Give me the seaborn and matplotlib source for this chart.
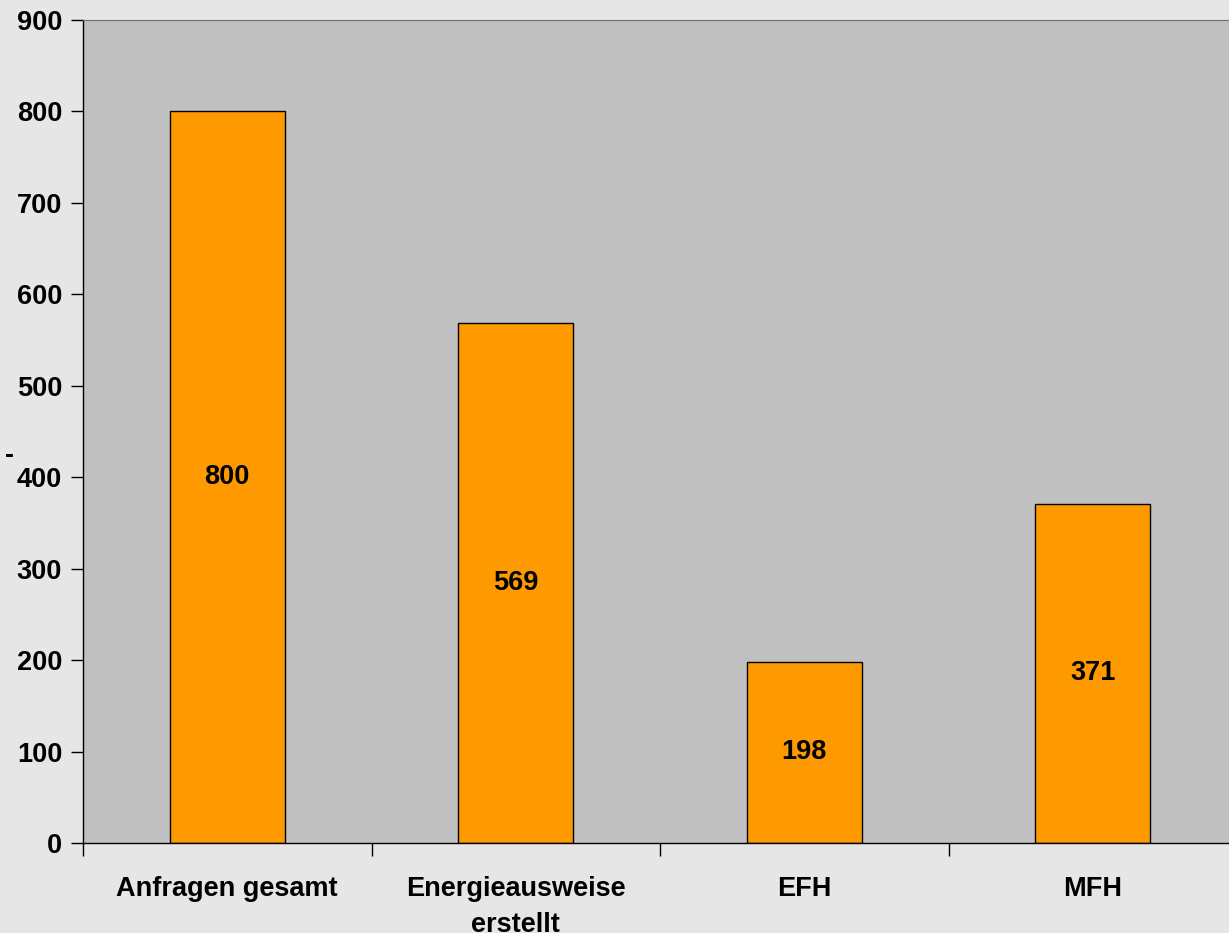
import numpy as np
import matplotlib
matplotlib.use("Agg")
import matplotlib.pyplot as plt
import seaborn as sns

# Daten
kategorien = ["Anfragen gesamt", "Energieausweise\nerstellt", "EFH", "MFH"]
werte = [800, 569, 198, 371]
y_ticks = list(range(0, 1000, 100))

sns.set_style("white")
plt.rcParams['font.family'] = ['Liberation Sans', 'DejaVu Sans']
plt.rcParams['font.weight'] = 'bold'
plt.rcParams['text.color'] = 'black'
plt.rcParams['xtick.color'] = 'black'
plt.rcParams['ytick.color'] = 'black'

fig = plt.figure(figsize=(12.29, 9.33), dpi=100, facecolor='#e6e6e6')
ax = fig.add_axes([83 / 1229, 90 / 933, 1154 / 1229, 823 / 933])
ax.set_facecolor('#c0c0c0')

sns.barplot(x=kategorien, y=werte, color='#ff9900', saturation=1, width=0.4,
            edgecolor='black', linewidth=1, ax=ax)

ax.set_xlim(-0.5, 3.5)
ax.set_ylim(0, 900)
ax.set_yticks(y_ticks)
ax.set_yticklabels([str(t) for t in y_ticks], fontsize=19.5, fontweight='bold', color='black')
ax.set_xticks(range(len(kategorien)))
ax.set_xticklabels(kategorien, fontsize=19.5, fontweight='bold', color='black', linespacing=1.5)
ax.set_xticks(np.arange(-0.5, 4, 1), minor=True)
ax.tick_params(axis='x', which='major', bottom=True, length=0, pad=24)
ax.tick_params(axis='x', which='minor', bottom=True, length=9, width=1, color='black', direction='out')
ax.tick_params(axis='y', left=True, length=9, width=1, color='black', direction='out', pad=6)
ax.set_xlabel("")
ax.set_ylabel("")

for spine in ['left', 'bottom']:
    ax.spines[spine].set_color('black')
    ax.spines[spine].set_linewidth(1)
ax.spines['top'].set_color('#707070')
ax.spines['right'].set_visible(False)

# Werte in Balkenmitte
for i, v in enumerate(werte):
    ax.text(i, v / 2, str(v), ha='center', va='center', fontsize=19.5,
            fontweight='bold', color='black')

# abgeschnittene Achsenbeschriftung am linken Rand
fig.text(9.5 / 1229, 1 - 456 / 933, "-", ha='center', va='center', fontsize=19.5,
         fontweight='bold', color='black')

fig.savefig("out.png", dpi=100, facecolor=fig.get_facecolor())
